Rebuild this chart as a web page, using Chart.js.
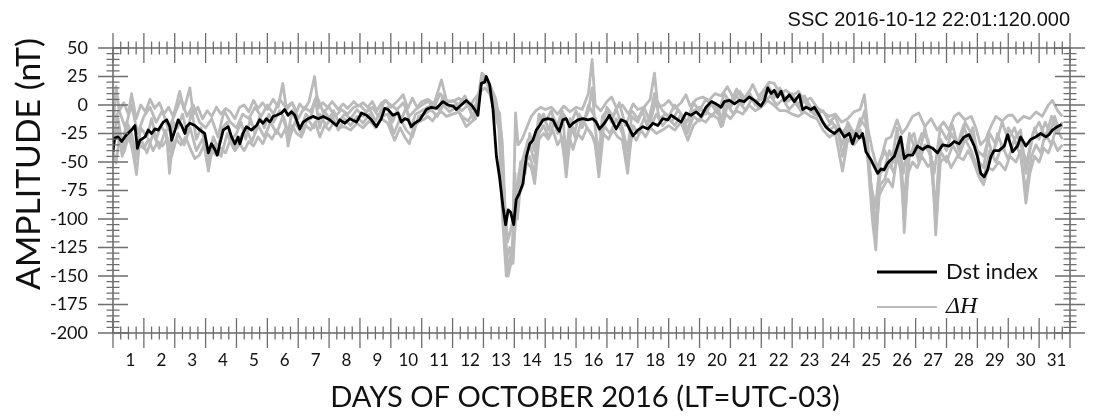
<!DOCTYPE html>
<html>
<head>
<meta charset="utf-8">
<script src="https://cdn.jsdelivr.net/npm/chart.js@4.4.0/dist/chart.umd.min.js"></script>
<style>
  html, body { margin: 0; padding: 0; background: #fff; }
  #wrap { width: 1093px; height: 416px; }
</style>
</head>
<body>
<div id="wrap"><canvas id="myChart" width="1093" height="416"></canvas></div>
<script>
'use strict';
// x = days since 2016-10-01 00:00 LT, y = nT
const dstDays = [0.00,0.05,0.16,0.28,0.44,0.60,0.71,0.79,0.87,1.04,1.14,1.25,1.36,1.47,1.63,1.74,1.84,1.90,2.01,2.11,2.22,2.33,2.38,2.49,2.65,2.82,2.97,3.09,3.19,3.30,3.38,3.46,3.57,3.73,3.84,3.95,4.05,4.11,4.21,4.32,4.48,4.65,4.75,4.86,4.97,5.08,5.19,5.30,5.46,5.56,5.67,5.78,5.89,6.05,6.16,6.32,6.48,6.65,6.81,7.02,7.24,7.35,7.51,7.67,7.89,8.05,8.21,8.37,8.53,8.69,8.80,8.91,9.07,9.23,9.34,9.45,9.56,9.66,9.77,9.94,
  10.15,10.31,10.47,10.69,10.85,11.02,11.12,11.28,11.44,11.61,11.72,11.82,11.93,12.04,12.09,12.20,12.31,12.42,12.52,12.63,12.72,12.80,12.88,12.98,13.06,13.17,13.28,13.39,13.50,13.60,13.71,13.82,13.93,14.09,14.25,14.36,14.46,14.57,14.68,14.79,14.90,15.06,15.22,15.38,15.54,15.65,15.76,15.92,16.08,16.19,16.30,16.46,16.62,16.84,17.00,17.17,17.33,17.49,17.65,17.81,17.97,18.08,18.24,18.40,18.56,18.72,18.89,19.05,19.21,19.38,19.53,19.70,
  19.80,19.97,20.13,20.29,20.45,20.61,20.78,20.99,21.10,21.21,21.32,21.42,21.53,21.64,21.75,21.91,22.07,22.23,22.34,22.45,22.61,22.72,22.88,22.99,23.09,23.20,23.37,23.53,23.69,23.85,23.96,24.07,24.17,24.28,24.39,24.55,24.66,24.77,24.88,24.98,25.09,25.20,25.31,25.42,25.52,25.63,25.74,25.90,26.06,26.22,26.39,26.55,26.71,26.87,27.09,27.25,27.41,27.57,27.73,27.90,28.00,28.11,28.22,28.33,28.44,28.54,28.70,28.87,28.98,29.14,29.30,29.40,29.57,29.73,29.89,30.05,30.22,30.32,30.43,30.59,30.73];
const dstValues = [-41,-29,-28,-32,-26,-22,-18,-38,-31,-28,-22,-25,-21,-22,-15,-13,-19,-31,-22,-13,-18,-25,-19,-16,-18,-22,-25,-42,-34,-39,-44,-34,-22,-19,-28,-34,-28,-34,-25,-19,-22,-18,-13,-16,-12,-15,-10,-9,-7,-4,-9,-6,-9,-21,-15,-12,-10,-12,-10,-13,-18,-13,-16,-12,-15,-7,-9,-13,-19,-12,-3,-4,-9,-7,-15,-12,-13,-19,-16,-13,
  -4,-2,-3,3,0,-1,-4,0,4,0,-4,-9,19,20,25,18,-4,-45,-63,-89,-105,-92,-94,-105,-83,-77,-69,-45,-34,-31,-22,-18,-13,-12,-13,-19,-23,-13,-12,-19,-16,-13,-12,-13,-12,-15,-21,-16,-9,-15,-21,-13,-15,-27,-22,-19,-21,-16,-18,-12,-13,-9,-12,-15,-7,-9,-6,-10,-2,3,1,-2,
  3,4,1,4,3,7,4,-1,4,15,10,13,7,12,4,9,3,9,-4,-2,-4,-2,-9,-15,-19,-22,-25,-21,-28,-25,-34,-25,-29,-25,-41,-48,-54,-60,-56,-57,-51,-48,-45,-36,-28,-47,-44,-44,-36,-39,-36,-38,-42,-35,-36,-32,-34,-28,-26,-36,-45,-60,-63,-57,-45,-40,-40,-36,-26,-41,-36,-28,-36,-30,-28,-25,-28,-26,-22,-19,-17];

// ΔH at the stations (several traces, all drawn in grey)
const dhUpperDays = [0.00,0.10,0.20,0.35,0.50,0.60,0.75,0.90,1.05,1.20,1.35,1.50,1.65,1.80,1.95,2.05,2.16,2.30,2.49,2.60,2.75,2.90,3.05,3.20,3.35,3.50,3.65,3.80,3.95,4.10,4.25,4.40,4.55,4.70,4.85,5.00,5.19,5.35,5.50,5.62,5.80,5.95,6.05,6.20,6.35,6.53,6.65,6.80,6.95,7.10,7.30,7.45,7.60,7.80,7.95,8.10,8.25,8.40,8.55,8.70,8.85,9.00,9.20,9.40,9.55,9.70,9.85,10.00,10.20,10.40,10.64,10.80,11.00,11.20,11.40,11.55,11.70,11.85,11.95,12.10,12.25,12.40,12.52,12.62,12.70,12.78,12.88,12.96,13.04,13.12,13.25,13.40,13.55,13.70,13.85,14.00,14.20,14.40,14.60,14.80,15.00,15.20,15.40,15.52,15.62,15.80,16.00,16.15,16.30,16.50,16.70,16.85,17.00,17.20,17.40,17.54,17.65,17.85,18.00,18.20,18.40,18.56,18.70,18.90,19.10,19.30,19.50,19.70,19.90,20.10,20.30,20.50,20.72,20.90,21.10,21.25,21.42,21.60,21.80,22.00,22.20,22.40,22.60,22.80,23.00,23.20,23.40,23.60,23.80,24.00,24.20,24.34,24.45,24.60,24.75,24.90,25.05,25.20,25.40,25.55,25.70,25.90,26.10,26.30,26.50,26.70,26.90,27.08,27.25,27.40,27.60,27.80,27.95,28.10,28.27,28.45,28.60,28.80,29.00,29.14,29.30,29.50,29.70,29.90,30.10,30.30,30.43,30.60,30.75];
const dhUpperValues = [-20,16,-5,2,-8,10,-12,0,-6,5,-3,2,-8,-2,-10,0,12,-4,15,-8,-2,-12,-5,-10,-2,-8,-3,-6,-12,-2,0,-6,4,-3,2,-4,5,-2,19,-4,2,-6,1,-4,3,25,-3,2,-2,3,-4,1,-3,3,-1,2,-2,3,-5,2,4,-2,3,9,-3,6,-2,3,5,1,22,4,3,6,2,-2,5,10,28,24,12,-2,-7,-40,-90,-120,-110,-100,-7,-35,-30,-20,-10,-5,-2,-4,-2,-8,-1,-6,-2,-4,10,40,0,-5,3,7,-2,0,-8,1,-4,-2,5,28,-2,0,4,-3,2,9,-1,5,7,4,10,8,16,6,12,5,18,8,12,20,19,10,13,8,12,4,6,-2,-6,-10,-8,-15,-12,-6,-4,9,-20,-40,-55,-45,-30,-28,-13,-25,-20,-10,-7,-19,-12,-22,-15,-22,-10,-7,-13,-10,-20,-35,-30,-18,-10,-14,-9,-9,-15,-10,-12,-6,-10,0,4,-5,-10];

const dhMidDays = [0.00,0.15,0.30,0.45,0.60,0.76,0.90,1.10,1.25,1.40,1.55,1.70,1.83,1.95,2.10,2.25,2.40,2.55,2.70,2.85,3.00,3.10,3.25,3.40,3.55,3.70,3.85,4.00,4.15,4.30,4.45,4.60,4.75,4.90,5.05,5.20,5.40,5.55,5.67,5.80,5.95,6.10,6.25,6.40,6.55,6.70,6.85,7.00,7.15,7.30,7.50,7.70,7.90,8.10,8.30,8.50,8.70,8.90,9.05,9.20,9.35,9.50,9.65,9.80,10.00,10.20,10.40,10.55,10.70,10.90,11.10,11.30,11.50,11.66,11.80,11.95,12.10,12.25,12.40,12.55,12.65,12.74,12.85,12.96,13.05,13.15,13.30,13.45,13.55,13.66,13.80,13.95,14.10,14.25,14.40,14.55,14.68,14.80,14.95,15.10,15.25,15.40,15.52,15.62,15.74,15.85,16.00,16.15,16.30,16.50,16.67,16.80,17.00,17.15,17.30,17.45,17.54,17.70,17.90,18.10,18.30,18.45,18.62,18.80,19.00,19.20,19.40,19.60,19.70,19.85,20.00,20.20,20.40,20.60,20.80,21.00,21.20,21.40,21.60,21.80,22.00,22.20,22.40,22.60,22.80,23.00,23.20,23.40,23.63,23.80,24.00,24.20,24.35,24.50,24.60,24.71,24.85,25.00,25.15,25.30,25.45,25.63,25.80,25.95,26.10,26.30,26.45,26.65,26.80,27.00,27.15,27.35,27.55,27.70,27.85,28.05,28.20,28.35,28.50,28.65,28.85,29.00,29.20,29.40,29.57,29.70,29.85,30.00,30.20,30.35,30.50,30.65,30.75];
const dhMidValues = [-30,-10,-35,-15,-25,-45,-20,-28,-12,-30,-18,-25,-40,-15,-20,-8,-25,-5,-30,-20,-35,-45,-28,-38,-20,-15,-30,-25,-15,-30,-12,-25,-10,-20,-8,-15,-5,-12,-25,-5,-15,-20,-8,-12,5,-20,-5,-12,-5,-15,-8,-12,-4,-10,-3,-14,-5,-2,-15,-5,-12,-2,-20,-8,-5,-2,2,-4,8,-2,0,-5,0,-12,-5,22,20,8,-10,-22,-70,-135,-125,-139,-90,-60,-45,-30,-40,-50,-15,-8,-22,-10,-18,-5,-45,-12,-25,-8,-15,-5,15,-20,-45,-10,-5,-15,-3,-20,-40,-10,-15,-5,-18,-2,10,-12,-8,-15,-4,-10,-22,-5,-2,-8,3,-5,-15,5,-2,8,0,10,2,5,14,6,12,2,6,-2,4,-6,-4,-15,-22,-18,-35,-15,-25,-18,-5,-50,-90,-100,-60,-55,-40,-50,-30,-85,-30,-25,-45,-20,-40,-90,-30,-40,-25,-35,-18,-30,-20,-50,-55,-30,-45,-25,-40,-20,-30,-22,-60,-40,-20,-30,-15,-25,-10,-22,-18];

const dhLowerDays = [0.00,0.10,0.20,0.35,0.50,0.65,0.76,0.85,1.00,1.15,1.30,1.45,1.60,1.75,1.83,1.92,2.05,2.20,2.35,2.50,2.65,2.80,2.95,3.09,3.20,3.35,3.50,3.65,3.80,3.95,4.10,4.25,4.40,4.55,4.70,4.85,5.00,5.15,5.30,5.45,5.60,5.67,5.80,5.95,6.10,6.25,6.40,6.55,6.70,6.85,7.00,7.15,7.30,7.50,7.70,7.90,8.10,8.30,8.50,8.70,8.90,9.12,9.30,9.45,9.60,9.75,9.90,10.05,10.20,10.35,10.50,10.65,10.80,11.00,11.20,11.44,11.60,11.75,11.90,12.05,12.20,12.35,12.50,12.62,12.74,12.85,12.96,13.10,13.25,13.40,13.55,13.66,13.80,13.95,14.10,14.25,14.40,14.55,14.68,14.80,14.90,15.05,15.20,15.35,15.50,15.62,15.74,15.88,16.05,16.20,16.35,16.50,16.67,16.80,16.95,17.10,17.25,17.40,17.60,17.80,18.00,18.20,18.40,18.62,18.80,19.00,19.20,19.40,19.60,19.70,19.85,20.00,20.20,20.40,20.60,20.80,21.00,21.20,21.40,21.60,21.80,22.00,22.20,22.40,22.60,22.80,23.00,23.20,23.40,23.63,23.80,24.00,24.20,24.40,24.60,24.71,24.80,24.95,25.10,25.25,25.40,25.55,25.63,25.75,25.90,26.05,26.20,26.40,26.55,26.65,26.80,27.00,27.15,27.35,27.55,27.70,27.85,28.05,28.20,28.35,28.50,28.70,28.90,29.05,29.25,29.40,29.57,29.70,29.85,30.00,30.15,30.30,30.45,30.60,30.75];
const dhLowerValues = [-40,-51,-30,-42,-28,-40,-61,-35,-38,-30,-40,-32,-36,-30,-60,-35,-30,-35,-28,-38,-47,-44,-35,-58,-40,-44,-38,-42,-30,-40,-34,-40,-32,-36,-28,-34,-25,-30,-22,-28,-20,-36,-18,-25,-28,-18,-22,-15,-28,-18,-22,-15,-20,-19,-22,-16,-20,-14,-19,-12,-16,-31,-20,-28,-34,-18,-15,-13,-10,-14,-8,-6,-10,-8,-6,-19,-15,-12,12,15,10,-5,-20,-100,-150,-140,-120,-70,-55,-50,-55,-69,-30,-25,-30,-22,-35,-28,-63,-30,-39,-25,-30,-20,-25,-35,-63,-25,-30,-22,-28,-31,-60,-25,-31,-22,-28,-20,-25,-22,-18,-22,-15,-31,-18,-12,-15,-8,-12,-19,-8,-12,-5,-8,0,-5,-2,4,0,-5,-5,-8,-10,-6,-10,-12,-22,-28,-25,-58,-30,-35,-28,-30,-101,-127,-80,-72,-65,-72,-45,-60,-112,-60,-50,-55,-45,-54,-50,-114,-50,-45,-55,-45,-48,-40,-48,-63,-70,-55,-57,-50,-57,-45,-50,-40,-86,-60,-45,-50,-38,-42,-31,-40,-35];

const dhAltDays = [0.0,0.2,0.4,0.6,0.8,1.0,1.2,1.4,1.6,1.8,2.0,2.2,2.4,2.6,2.8,3.0,3.2,3.4,3.6,3.8,4.0,4.2,4.4,4.6,4.8,5.0,5.2,5.4,5.6,5.8,6.0,6.2,6.4,6.6,6.8,7.0,7.2,7.4,7.6,7.8,8.0,8.2,8.4,8.6,8.8,9.0,9.2,9.4,9.6,9.8,10.0,10.2,10.4,10.6,10.8,11.0,11.2,11.4,11.6,11.8,11.95,12.1,12.25,12.4,12.5,12.6,12.7,12.8,12.9,13.0,13.1,13.2,13.35,13.5,13.65,13.8,14.0,14.2,14.4,14.6,14.8,15.0,15.2,15.4,15.6,15.8,16.0,16.2,16.4,16.6,16.8,17.0,17.2,17.4,17.6,17.8,18.0,18.2,18.4,18.6,18.8,19.0,19.2,19.4,19.6,19.8,20.0,20.2,20.4,20.6,20.8,21.0,21.2,21.4,21.6,21.8,22.0,22.2,22.4,22.6,22.8,23.0,23.2,23.4,23.6,23.8,24.0,24.2,24.4,24.55,24.7,24.85,25.0,25.2,25.4,25.6,25.8,26.0,26.2,26.4,26.6,26.8,27.0,27.2,27.4,27.6,27.8,28.0,28.2,28.4,28.6,28.8,29.0,29.2,29.4,29.6,29.8,30.0,30.2,30.4,30.6,30.75];
const dhAltValues = [-15,-5,-20,0,-25,-10,-2,-15,-5,-22,-8,5,-10,0,-15,-20,-12,-28,-5,-15,-20,-8,-12,-2,-10,0,-8,5,-2,2,-12,-2,-6,8,-6,-2,-10,-4,-8,-2,0,-6,-2,-10,4,0,-4,2,-10,-4,0,3,-2,10,2,4,0,8,-5,2,25,22,15,5,-10,-30,-110,-145,-130,-115,-80,-50,-60,-25,-40,-8,-15,-5,-25,-8,-18,-5,-20,0,-10,-25,-2,-10,2,-18,-5,-12,-2,-15,5,-5,-10,0,-8,-15,2,-5,5,0,-8,10,2,14,4,12,0,10,18,8,15,5,10,0,8,-2,-8,-5,-15,-10,-25,-18,-30,-12,-20,-70,-90,-50,-40,-55,-20,-60,-25,-40,-25,-30,-60,-20,-30,-18,-40,-15,-25,-40,-45,-25,-35,-15,-30,-20,-35,-50,-25,-15,-30,-10,-25,-15];

const dhAlt2Days = [0.0,0.15,0.3,0.5,0.7,0.9,1.1,1.3,1.5,1.7,1.9,2.1,2.3,2.5,2.7,2.9,3.1,3.3,3.5,3.7,3.9,4.1,4.3,4.5,4.7,4.9,5.1,5.3,5.5,5.7,5.9,6.1,6.3,6.5,6.7,6.9,7.1,7.3,7.5,7.7,7.9,8.1,8.3,8.5,8.7,8.9,9.1,9.3,9.5,9.7,9.9,10.1,10.3,10.5,10.7,10.9,11.1,11.3,11.5,11.7,11.9,12.05,12.2,12.35,12.5,12.6,12.7,12.8,12.92,13.02,13.1,13.2,13.35,13.5,13.66,13.8,13.95,14.1,14.3,14.5,14.68,14.85,15.0,15.2,15.4,15.6,15.74,15.9,16.1,16.3,16.5,16.67,16.85,17.0,17.2,17.4,17.6,17.8,18.0,18.2,18.4,18.6,18.8,19.0,19.2,19.4,19.6,19.75,19.9,20.1,20.3,20.5,20.7,20.9,21.1,21.3,21.5,21.7,21.9,22.1,22.3,22.5,22.7,22.9,23.1,23.3,23.5,23.63,23.8,24.0,24.2,24.4,24.6,24.71,24.85,25.0,25.15,25.3,25.45,25.63,25.8,25.95,26.1,26.3,26.5,26.65,26.8,27.0,27.2,27.4,27.6,27.8,28.0,28.2,28.4,28.6,28.8,29.0,29.2,29.4,29.57,29.75,29.9,30.05,30.2,30.4,30.55,30.75];
const dhAlt2Values = [-35,-20,-45,-20,-50,-30,-42,-25,-38,-22,-45,-25,-35,-20,-40,-30,-50,-35,-45,-25,-38,-30,-20,-32,-18,-28,-15,-25,-10,-30,-15,-25,-12,-20,-8,-18,-10,-22,-12,-18,-10,-16,-8,-20,-10,-8,-25,-12,-22,-28,-10,-8,-4,-10,0,-6,-2,-10,-14,-6,15,25,14,0,-15,-60,-125,-150,-135,-60,-100,-70,-50,-45,-60,-25,-18,-28,-15,-25,-55,-20,-30,-12,-22,-30,-55,-18,-25,-12,-25,-50,-18,-25,-12,-20,-8,-18,-12,-18,-8,-25,-10,-14,-5,-10,-2,-18,0,-8,2,-5,6,-2,3,8,0,5,-4,2,-6,0,-8,-10,-20,-15,-25,-45,-22,-30,-22,-35,-80,-115,-70,-65,-50,-60,-35,-100,-45,-35,-50,-35,-45,-105,-40,-50,-35,-45,-30,-40,-55,-65,-40,-50,-35,-48,-30,-45,-75,-45,-35,-42,-25,-35,-20,-30];

const dayLabels = ['1','2','3','4','5','6','7','8','9','10','11','12','13','14','15','16','17','18','19','20','21','22','23','24','25','26','27','28','29','30','31'];
const yTickValues = [50, 25, 0, -25, -50, -75, -100, -125, -150, -175, -200];

function toPoints(days, vals) {
  let pts = [];
  for (let i = 0; i < days.length; i++) { pts.push({x: days[i], y: vals[i]}); }
  return pts;
}

const GRAY = '#bababa';
const TICK = '#6e6e6e';

function fitFont(ctx, text, style, family, target) {
  ctx.font = style + ' 40px ' + family;
  let w = ctx.measureText(text).width;
  return 40 * target / w;
}

const axisDecor = {
  id: 'axisDecor',
  afterDatasetsDraw(chart) {
    const ctx = chart.ctx;
    const a = chart.chartArea;
    const x = chart.scales.x;
    const y = chart.scales.y;
    ctx.save();
    // frame
    ctx.strokeStyle = '#5a5a5a';
    ctx.lineWidth = 1.4;
    ctx.strokeRect(a.left, a.top, a.right - a.left, a.bottom - a.top);
    // x ticks: major each day, minor every 6 h, crossing top and bottom axes
    ctx.strokeStyle = TICK;
    ctx.lineWidth = 1.3;
    ctx.beginPath();
    for (let k = 0; k <= 31 * 4; k++) {
      let px = x.getPixelForValue(k / 4);
      let len = (k % 4 === 0) ? 15 : 6.5;
      ctx.moveTo(px, a.top - len); ctx.lineTo(px, a.top + len);
      ctx.moveTo(px, a.bottom - len); ctx.lineTo(px, a.bottom + len);
    }
    // y ticks: major every 25, minor every 5, crossing left and right axes
    for (let v = -200; v <= 50; v += 5) {
      let py = y.getPixelForValue(v);
      let len = (v % 25 === 0) ? 15 : 6.5;
      ctx.moveTo(a.left - len, py); ctx.lineTo(a.left + len, py);
      ctx.moveTo(a.right - len, py); ctx.lineTo(a.right + len, py);
    }
    ctx.stroke();

    ctx.fillStyle = '#111';
    ctx.textBaseline = 'middle';
    // y tick labels
    ctx.font = '18px Lato';
    ctx.textAlign = 'right';
    yTickValues.forEach(v => ctx.fillText(String(v), 88, y.getPixelForValue(v)));
    // x tick labels, centred in each day
    ctx.font = '17px Lato';
    ctx.textAlign = 'center';
    dayLabels.forEach((lab, i) => ctx.fillText(lab, x.getPixelForValue(i + 0.5) + 2, 361));

    // axis titles
    let xt = 'DAYS OF OCTOBER 2016 (LT=UTC-03)';
    ctx.font = fitFont(ctx, xt, '', 'Lato', 510) + 'px Lato';
    ctx.fillText(xt, 585, 398);
    let yt = 'AMPLITUDE (nT)';
    ctx.save();
    ctx.translate(29, 164);
    ctx.rotate(-Math.PI / 2);
    ctx.font = fitFont(ctx, yt, '', 'Lato', 252) + 'px Lato';
    ctx.fillText(yt, 0, 0);
    ctx.restore();

    // SSC note
    ctx.textAlign = 'right';
    ctx.font = '20px "Liberation Sans"';
    ctx.fillText('SSC 2016-10-12 22:01:120.000', 1070, 20);

    // legend
    ctx.lineWidth = 2.8;
    ctx.strokeStyle = '#000';
    ctx.beginPath(); ctx.moveTo(877, 272); ctx.lineTo(937, 272); ctx.stroke();
    ctx.strokeStyle = GRAY;
    ctx.lineWidth = 2.2;
    ctx.beginPath(); ctx.moveTo(877, 307); ctx.lineTo(937, 307); ctx.stroke();
    ctx.textAlign = 'left';
    ctx.font = '22px Lato';
    ctx.fillText('Dst index', 946, 272);
    ctx.font = 'italic 24px "Liberation Serif"';
    ctx.fillText('\u0394H', 946, 307);
    ctx.restore();
  }
};

function grayLine(days, vals, order) {
  return { label: '\u0394H', data: toPoints(days, vals), borderColor: GRAY, borderWidth: 2.8, order: order };
}

const ctx = document.getElementById('myChart').getContext('2d');
const myChart = new Chart(ctx, {
  type: 'line',
  data: {
    datasets: [
      { label: 'Dst index', data: toPoints(dstDays, dstValues), borderColor: '#000', borderWidth: 2.8, order: 0 },
      grayLine(dhMidDays, dhMidValues, 1),
      grayLine(dhAltDays, dhAltValues, 2),
      grayLine(dhAlt2Days, dhAlt2Values, 3),
      grayLine(dhUpperDays, dhUpperValues, 4),
      grayLine(dhLowerDays, dhLowerValues, 5)
    ]
  },
  options: {
    responsive: false,
    animation: false,
    elements: { point: { radius: 0 }, line: { tension: 0, borderJoinStyle: 'round' } },
    layout: { padding: { left: 113, right: 23, top: 48, bottom: 83 } },
    plugins: { legend: { display: false }, tooltip: { enabled: false } },
    scales: {
      x: { type: 'linear', min: 0, max: 31, display: false },
      y: { type: 'linear', min: -200, max: 50, display: false }
    }
  },
  plugins: [axisDecor]
});
</script>
</body>
</html>
